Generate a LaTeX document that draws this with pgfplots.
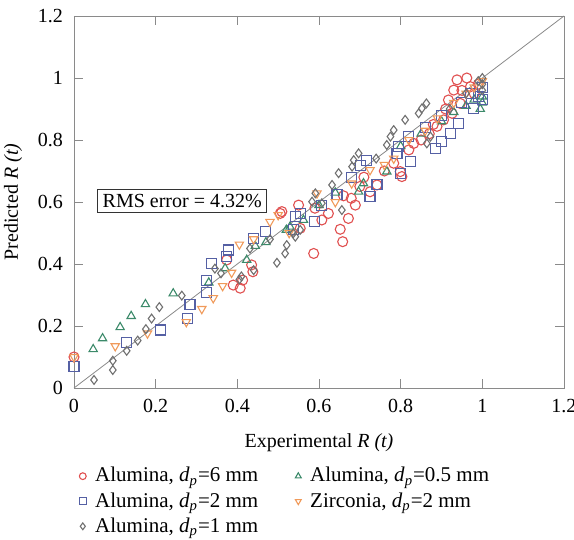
\documentclass[border=0pt]{standalone}
\usepackage{pgfplots}
\pgfplotsset{compat=1.18}
\usepackage{fontspec}
\setmainfont{Liberation Serif}

\definecolor{cRed}{HTML}{E05050}
\definecolor{cBlue}{HTML}{5560A4}
\definecolor{cGray}{HTML}{707070}
\definecolor{cGreen}{HTML}{3C8A6A}
\definecolor{cOrange}{HTML}{F09A5A}
\definecolor{axgray}{HTML}{8A8A8A}

\begin{document}
\begin{tikzpicture}
\useasboundingbox (-37pt,-76pt) rectangle (250pt,194pt);
\begin{axis}[
  at={(0,0)}, anchor=south west,
  width=245pt, height=186pt, scale only axis,
  xmin=0, xmax=1.2, ymin=0, ymax=1.2,
  xtick={0,0.2,...,1.2}, ytick={0,0.2,...,1.2},
  /pgf/number format/assume math mode=true,
  tick label style={font=\fontsize{10}{12}\selectfont},
  xticklabel style={yshift=-2pt},
  yticklabel style={xshift=-2pt},
  label style={font=\fontsize{10}{12}\selectfont},
  xlabel style={yshift=-3.5pt},
  ylabel style={yshift=1pt},
  axis line style={axgray}, tick style={axgray},
  tick align=inside,
  xlabel={Experimental \textit{R (t)}},
  ylabel={Predicted \textit{R (t)}},
  legend image code/.code={\draw[mark repeat=2,mark phase=2] plot coordinates {(0pt,0pt) (5pt,0pt) (10pt,0pt)};},
  legend image post style={mark size=1.7pt},
  legend style={font=\fontsize{10.5}{12}\selectfont, draw=none, fill=none,
    at={(0,0)}, anchor=north west, xshift=-0.5pt, yshift=-35.5pt,
    legend columns=2, row sep=-0.25pt,
    /tikz/every odd column/.append style={column sep=2.5pt},
    /tikz/every even column/.append style={column sep=16.5pt},
    cells={anchor=west}},
  legend cell align=left,
]
\addplot[axgray, thin, forget plot] coordinates {(0,0) (1.2,1.2)};

\addplot[only marks, mark=o, mark size=2.5pt, cRed, mark options={line width=0.55pt}] coordinates {
(0,0.10) (0.374,0.413) (0.39,0.332) (0.407,0.322) (0.413,0.348) (0.435,0.397)
(0.438,0.375) (0.505,0.563) (0.509,0.569) (0.55,0.59) (0.554,0.515) (0.587,0.434)
(0.607,0.542) (0.623,0.563) (0.652,0.512) (0.658,0.472) (0.672,0.547) (0.679,0.612)
(0.689,0.59) (0.70,0.65) (0.725,0.633) (0.742,0.655) (0.76,0.70) (0.783,0.725)
(0.799,0.698) (0.803,0.682) (0.82,0.768) (0.832,0.789) (0.85,0.80) (0.87,0.82)
(0.889,0.844) (0.905,0.865) (0.917,0.929) (0.926,0.886) (0.93,0.961) (0.938,0.994)
(0.946,0.918) (0.962,1.0) (0.971,0.972) (0.98,0.95) (0.99,0.98) (0.88,0.85)
(0.91,0.90) (0.95,0.96) (0.66,0.62) (0.71,0.68) (0.59,0.58)
};
\addlegendentry{Alumina, \textit{d}\textsubscript{\textit{p}}=6 mm}

\addplot[only marks, mark=triangle, mark size=2.4pt, cGreen, mark options={line width=0.55pt}] coordinates {
(0.047,0.125) (0.07,0.16) (0.113,0.196) (0.14,0.232) (0.175,0.27) (0.243,0.305)
(0.33,0.34) (0.37,0.386) (0.423,0.413) (0.444,0.458) (0.47,0.47) (0.52,0.51)
(0.529,0.52) (0.562,0.542) (0.60,0.59) (0.64,0.63) (0.697,0.633) (0.709,0.66)
(0.766,0.698) (0.80,0.78) (0.85,0.82) (0.90,0.86) (0.93,0.89) (0.96,0.91)
(0.98,0.93) (1.0,0.92) (1.0,0.94) (0.995,0.90)
};
\addlegendentry{Alumina, \textit{d}\textsubscript{\textit{p}}=0.5 mm}

\addplot[only marks, mark=square, mark size=2.5pt, cBlue, mark options={line width=0.55pt}] coordinates {
(0,0.07) (0.129,0.146) (0.212,0.187) (0.278,0.225) (0.284,0.269) (0.324,0.307)
(0.325,0.348) (0.337,0.402) (0.373,0.424) (0.378,0.445) (0.44,0.483) (0.468,0.504)
(0.537,0.51) (0.542,0.553) (0.554,0.563) (0.59,0.536) (0.607,0.59) (0.644,0.623)
(0.701,0.719) (0.717,0.735) (0.725,0.617) (0.742,0.655) (0.791,0.757) (0.795,0.779)
(0.799,0.692) (0.824,0.73) (0.86,0.84) (0.885,0.773) (0.901,0.795) (0.922,0.821)
(0.942,0.854) (0.95,0.92) (0.979,0.902) (0.99,0.94) (1.0,0.93) (1.0,0.97)
(0.97,0.95) (0.90,0.88) (0.82,0.81) (0.68,0.68)
};
\addlegendentry{Alumina, \textit{d}\textsubscript{\textit{p}}=2 mm}

\addplot[only marks, mark=triangle, mark size=2.4pt, cOrange, mark options={rotate=180, line width=0.55pt}] coordinates {
(0,0.10) (0.101,0.135) (0.18,0.176) (0.275,0.213) (0.313,0.255) (0.341,0.29)
(0.364,0.329) (0.386,0.372) (0.405,0.463) (0.44,0.48) (0.48,0.536) (0.50,0.558)
(0.527,0.50) (0.595,0.628) (0.64,0.60) (0.68,0.66) (0.725,0.703) (0.76,0.72)
(0.783,0.74) (0.82,0.80) (0.86,0.83) (0.89,0.87) (0.93,0.92) (0.96,0.95)
(0.98,0.97) (1.0,0.99)
};
\addlegendentry{Zirconia, \textit{d}\textsubscript{\textit{p}}=2 mm}

\addplot[only marks, mark=diamond, mark size=2.2pt, cGray, mark options={line width=0.55pt}] coordinates {
(0.049,0.026) (0.095,0.058) (0.095,0.088) (0.129,0.12) (0.156,0.153) (0.176,0.19)
(0.19,0.224) (0.209,0.261) (0.264,0.298) (0.345,0.385) (0.36,0.37) (0.405,0.35)
(0.41,0.36) (0.431,0.45) (0.44,0.38) (0.497,0.404) (0.517,0.434) (0.521,0.461)
(0.537,0.499) (0.542,0.488) (0.554,0.51) (0.583,0.601) (0.591,0.628) (0.607,0.596)
(0.632,0.655) (0.648,0.693) (0.656,0.574) (0.681,0.714) (0.685,0.735) (0.697,0.757)
(0.766,0.784) (0.775,0.811) (0.783,0.832) (0.811,0.865) (0.844,0.886) (0.852,0.902)
(0.863,0.918) (0.864,0.789) (0.873,0.811) (0.92,0.90) (0.96,0.95) (1.0,0.98)
(1.0,1.0) (1.0,0.96) (0.99,0.99) (0.48,0.48) (0.74,0.74)
};
\addlegendentry{Alumina, \textit{d}\textsubscript{\textit{p}}=1 mm}

\node[draw=black!80, fill=white, inner sep=2.5pt, font=\fontsize{10}{12}\selectfont]
  at (axis cs:0.265,0.603) {RMS error = 4.32\%};
\end{axis}
\end{tikzpicture}
\end{document}
